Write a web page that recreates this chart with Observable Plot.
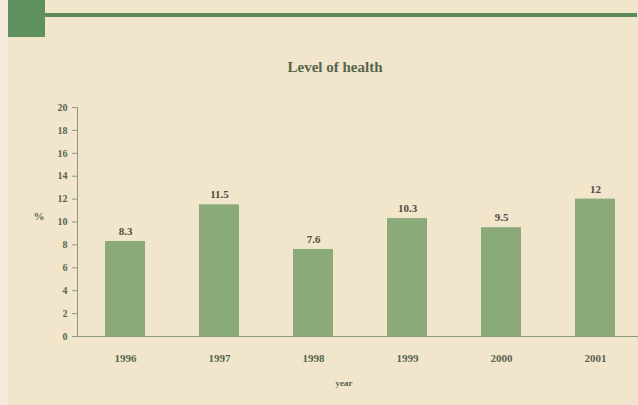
<!DOCTYPE html>
<html>
<head>
<meta charset="utf-8">
<script src="https://cdn.jsdelivr.net/npm/d3@7"></script>
<script src="https://cdn.jsdelivr.net/npm/@observablehq/plot@0.6"></script>
<style>
  html, body { margin: 0; padding: 0; background: #f1e5cb; }
  #page { position: relative; width: 638px; height: 405px; overflow: hidden; background: #f1e5cb; font-family: "Liberation Serif", "DejaVu Serif", serif; }
  #edge { position: absolute; left: 0; top: 0; width: 8px; height: 405px; background: #f4eadb; }
  #block { position: absolute; left: 8px; top: 0; width: 37px; height: 37px; background: #5f915f; }
  #rule { position: absolute; left: 45px; top: 13px; width: 592px; height: 4px; background: #5e8a5a; }
  #title { position: absolute; left: 0; top: 59px; width: 670px; text-align: center; font-weight: bold; font-size: 15px; color: #55654a; }
  #chart { position: absolute; left: 0; top: 90px; }
</style>
</head>
<body>
<div id="page">
  <div id="edge"></div>
  <div id="block"></div>
  <div id="rule"></div>
  <div id="title">Level of health</div>
  <div id="chart"></div>
</div>
<script>
const years = ["1996", "1997", "1998", "1999", "2000", "2001"];
const values = [8.3, 11.5, 7.6, 10.3, 9.5, 12];
const yTicks = [0, 2, 4, 6, 8, 10, 12, 14, 16, 18, 20];

const rows = years.map((year, i) => ({year, value: values[i]}));

const ink = "#566650";
const font = "Liberation Serif";

const chart = Plot.plot({
  width: 638,
  height: 315,
  marginLeft: 77,
  marginRight: 0,
  marginTop: 17,
  marginBottom: 69,
  style: {background: "transparent", fontFamily: font, fontWeight: "bold", fontSize: "10px", color: ink},
  x: {domain: years, range: [75.65, 644.85], paddingInner: 0.577, paddingOuter: 0.3},
  y: {domain: [0, 20]},
  marks: [
    Plot.barY(rows, {x: "year", y: "value", fill: "#8aaa7a"}),
    Plot.text(rows, {x: "year", y: "value", text: d => String(d.value), dy: -10, fontSize: 11, fontWeight: "bold", fill: "#4c4d40"}),
    Plot.frame({anchor: "left", stroke: "#8d9680"}),
    Plot.ruleY([0], {stroke: "#8d9680"}),
    Plot.axisY({ticks: yTicks, tickSize: 5, tickPadding: 5, label: null, stroke: "#8d9680", fill: ink, fontSize: 10}),
    Plot.axisX({tickSize: 0, tickPadding: 18, label: null, fill: ink, fontSize: 11}),
    Plot.text(["%"], {frameAnchor: "left", dx: -44, dy: -6, fontSize: 11, fontWeight: "bold", fill: ink}),
    Plot.text(["year"], {frameAnchor: "bottom", dx: -14, dy: 49, fontSize: 9, fontWeight: "bold", fill: ink})
  ]
});

document.getElementById("chart").appendChild(chart);
</script>
</body>
</html>
